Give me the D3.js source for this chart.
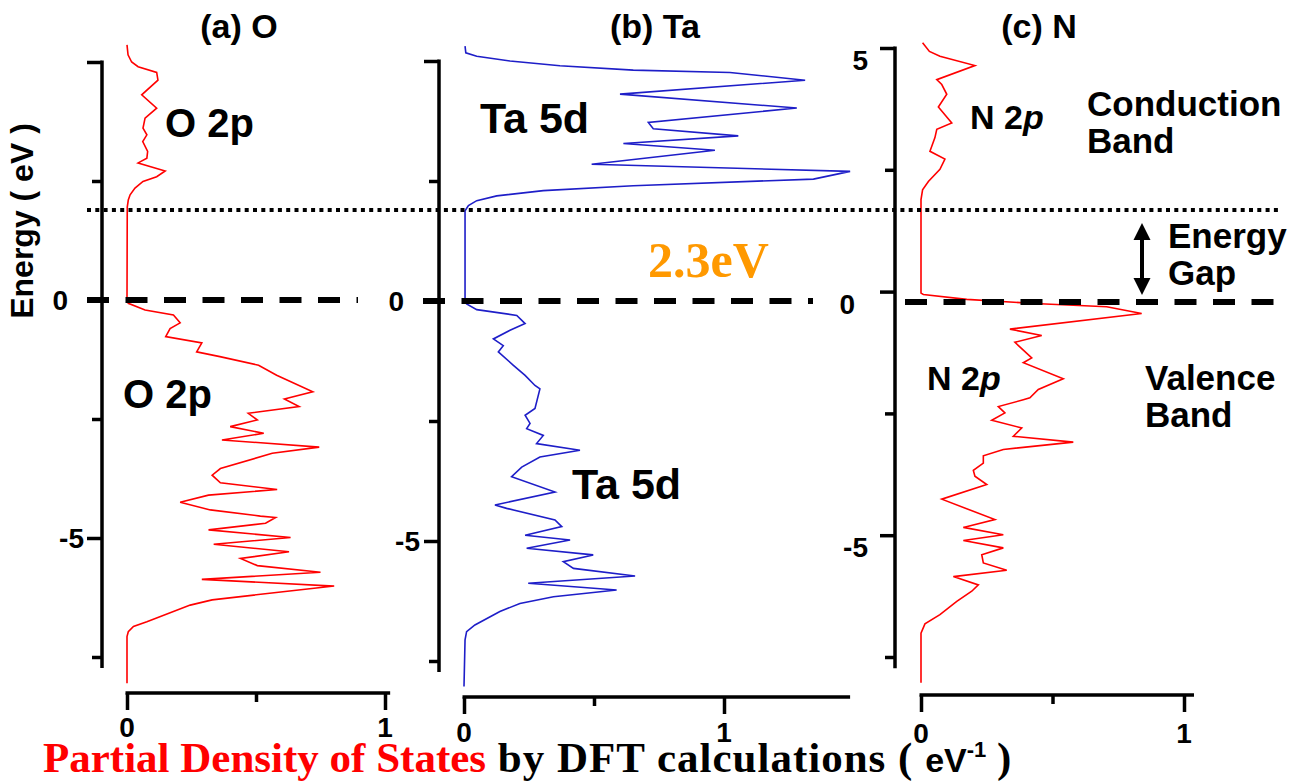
<!DOCTYPE html>
<html lang="en">
  <head>
    <meta charset="UTF-8" />
    <title>Partial density of states</title>
    <script src="https://d3js.org/d3.v7.min.js"></script>
    <style>
      body {
        margin: 0;
        background: #fff;
      }
      svg {
        display: block;
        font-family: "Liberation Sans", Arial, sans-serif;
        font-weight: bold;
      }
      .axis line,
      .axis-line {
        stroke: #000;
        stroke-width: 3.5;
      }
      .curve {
        fill: none;
        stroke-width: 1.6;
      }
      .tick-label {
        font-size: 28px;
      }
      .title {
        font-size: 34px;
        text-anchor: middle;
      }
      .serif {
        font-family: "Liberation Serif", "Times New Roman", serif;
      }
    </style>
  </head>
  <body>
    <svg width="1304" height="782"></svg>

    <script>
      // energies (eV) and PDOS (1/eV)
      const oEnergy = [5.36, 5.15, 5.0, 4.9, 4.78, 4.62, 4.31, 4.03, 3.82, 3.61, 3.47, 3.33, 3.12, 2.98, 2.88, 2.71, 2.59, 2.49, 2.35, 2.21, 2.1, 1.95, 0,
        -0.07, -0.21, -0.315, -0.48, -0.6, -0.77, -0.9, -1.09, -1.19, -1.37, -1.58, -1.93, -2.08, -2.24, -2.38, -2.52, -2.66, -2.8, -2.94, -3.09,
        -3.22, -3.54, -3.68, -3.84, -3.98, -4.1, -4.25, -4.41, -4.54, -4.57, -4.69, -4.83, -4.99, -5.13, -5.29, -5.43, -5.58, -5.72, -5.87, -6.01,
        -6.15, -6.3, -6.41, -6.76, -6.86, -6.97, -7.07, -8.05];
      const oDos = [0, 0.004, 0.018, 0.043, 0.115, 0.12, 0.057, 0.115, 0.07, 0.062, 0.077, 0.061, 0.08, 0.077, 0.043, 0.148, 0.115, 0.062, 0.031, 0.012, 0.005, 0.001, 0,
        0.005, 0.07, 0.18, 0.206, 0.167, 0.15, 0.29, 0.27, 0.36, 0.51, 0.58, 0.72, 0.61, 0.667, 0.47, 0.505, 0.4, 0.53, 0.368, 0.745,
        0.563, 0.362, 0.33, 0.362, 0.582, 0.316, 0.206, 0.323, 0.517, 0.576, 0.537, 0.316, 0.634, 0.336, 0.628, 0.44, 0.505, 0.75, 0.29, 0.803,
        0.57, 0.33, 0.245, 0.077, 0.025, 0.005, 0, 0];

      const taEnergy = [5.31, 5.17, 5.1, 5.0, 4.9, 4.81, 4.76, 4.6, 4.31, 4.02, 3.72, 3.59, 3.44, 3.28, 3.14, 2.85, 2.7, 2.54, 2.4, 2.3,
        2.19, 2.09, 1.99, 1.88, 0, -0.06, -0.18, -0.3, -0.47, -0.61, -0.79, -0.93, -1.06, -1.34, -1.55, -1.76, -1.83, -2.24, -2.38, -2.55,
        -2.66, -2.8, -2.97, -3.11, -3.25, -3.46, -3.66, -3.98, -4.25, -4.32, -4.56, -4.7, -4.88, -4.98, -5.15, -5.29, -5.43, -5.57, -5.73, -5.88,
        -6.02, -6.16, -6.3, -6.47, -6.75, -6.89, -7.06, -8.03];
      const taDos = [0.004, 0.007, 0.049, 0.177, 0.369, 0.651, 1.023, 1.312, 0.6, 1.28, 0.709, 0.728, 1.055, 0.613, 0.965, 0.491, 1.485, 1.344, 0.651, 0.305,
        0.126, 0.049, 0.017, 0.004, 0.004, 0.01, 0.049, 0.203, 0.235, 0.177, 0.113, 0.151, 0.132, 0.19, 0.235, 0.273, 0.292, 0.273, 0.235, 0.254,
        0.241, 0.305, 0.279, 0.446, 0.292, 0.222, 0.183, 0.35, 0.119, 0.164, 0.35, 0.376, 0.235, 0.408, 0.241, 0.497, 0.382, 0.421, 0.658, 0.247,
        0.587, 0.344, 0.215, 0.138, 0.042, 0.01, 0.004, 0];

      const nEnergy = [5.11, 4.93, 4.83, 4.64, 4.35, 4.25, 4.05, 3.79, 3.46, 3.33, 3.16, 2.88, 2.72, 2.51, 2.26, 2.09, 1.89, -0.03, -0.06, -0.16,
        -0.25, -0.31, -0.45, -0.77, -0.9, -1.04, -1.36, -1.46, -1.79, -2.01, -2.18, -2.22, -2.36, -2.49, -2.64, -2.8, -2.97, -3.09, -3.24, -3.37,
        -3.52, -3.67, -3.79, -3.96, -4.26, -4.68, -4.84, -4.99, -5.11, -5.26, -5.4, -5.57, -5.72, -5.85, -6.02, -6.15, -6.36, -6.63, -6.82, -7.01, -8.03];
      const nDos = [0.006, 0.032, 0.072, 0.205, 0.06, 0.079, 0.098, 0.066, 0.117, 0.06, 0.053, 0.034, 0.091, 0.072, 0.028, 0.006, 0, 0, 0.009, 0.174,
        0.452, 0.706, 0.839, 0.338, 0.459, 0.357, 0.421, 0.389, 0.541, 0.446, 0.414, 0.389, 0.294, 0.319, 0.269, 0.383, 0.351, 0.579, 0.313, 0.237,
        0.237, 0.199, 0.205, 0.25, 0.079, 0.281, 0.161, 0.313, 0.161, 0.313, 0.231, 0.237, 0.326, 0.123, 0.218, 0.193, 0.136, 0.072, 0.015, 0, 0];

      const energyTicks = [5, 2.5, 0, -2.5, -5, -7.5];
      const dosTicks = [0, 0.5, 1];

      const svg = d3.select("svg");
      svg.append("rect").attr("width", 1304).attr("height", 782).attr("fill", "#fff");

      const panels = [
        { title: "(a) O", energy: oEnergy, dos: oDos, color: "#ff0000", axisX: 102, yRange: [62, 657], xRange: [127, 385], xMax: 1.02, xAxisY: 693,
          titleX: 239, yLabels: [0, -5], zeroDx: -34, otherDx: -18, labelDy: 10, xLabelY: 737 },
        { title: "(b) Ta", energy: taEnergy, dos: taDos, color: "#1e1ec8", axisX: 439, yRange: [61, 661], xRange: [464, 724], xMax: 1.485, xAxisY: 697,
          titleX: 655, yLabels: [0, -5], zeroDx: -35, otherDx: -19, labelDy: 10, xLabelY: 742 },
        { title: "(c) N", energy: nEnergy, dos: nDos, color: "#ff0000", axisX: 895, yRange: [48, 657], xRange: [921, 1184], xMax: 1.038, xAxisY: 695,
          titleX: 1039, yLabels: [5, 0, -5], zeroDx: -40, otherDx: -27, labelDy: 22, xLabelY: 743 }
      ];

      panels.forEach(function (p) {
        const y = d3.scaleLinear().domain([5, -7.5]).range(p.yRange);
        const x = d3.scaleLinear().domain([0, 1]).range(p.xRange);

        // y axis
        svg.append("line").attr("class", "axis-line")
          .attr("x1", p.axisX).attr("x2", p.axisX)
          .attr("y1", y(5) - 1.5).attr("y2", y(-7.73));
        const yAxis = svg.append("g").attr("class", "axis")
          .attr("transform", "translate(" + p.axisX + ",0)")
          .call(d3.axisLeft(y).tickValues(energyTicks).tickFormat("").tickSizeOuter(0));
        yAxis.select(".domain").remove();
        yAxis.selectAll(".tick line").attr("x2", function (d) {
          return d % 5 === 0 ? -15 : -10;
        });
        svg.selectAll(null).data(p.yLabels).enter().append("text")
          .attr("class", "tick-label")
          .attr("text-anchor", "end")
          .attr("x", function (d) { return p.axisX + (d === 0 ? p.zeroDx : p.otherDx); })
          .attr("y", function (d) { return y(d) + p.labelDy; })
          .text(function (d) { return d; });

        // x axis
        svg.append("line").attr("class", "axis-line")
          .attr("x1", x(0) - 1.5).attr("x2", x(p.xMax))
          .attr("y1", p.xAxisY).attr("y2", p.xAxisY);
        const xAxis = svg.append("g").attr("class", "axis")
          .attr("transform", "translate(0," + p.xAxisY + ")")
          .call(d3.axisBottom(x).tickValues(dosTicks).tickFormat("").tickSizeOuter(0));
        xAxis.select(".domain").remove();
        xAxis.selectAll(".tick line").attr("y2", function (d) {
          return d === 0.5 ? 9 : 17;
        });
        svg.selectAll(null).data([0, 1]).enter().append("text")
          .attr("class", "tick-label")
          .attr("text-anchor", "middle")
          .attr("x", function (d) { return x(d); })
          .attr("y", p.xLabelY)
          .text(function (d) { return d; });

        // PDOS curve
        const line = d3.line()
          .x(function (d) { return x(d[1]); })
          .y(function (d) { return y(d[0]); });
        svg.append("path").attr("class", "curve")
          .attr("stroke", p.color)
          .attr("d", line(d3.zip(p.energy, p.dos)));

        svg.append("text").attr("class", "title")
          .attr("x", p.titleX).attr("y", 38).text(p.title);
      });

      // Fermi level (dashed) and conduction band edge (dotted)
      [[87, 358, 300], [423, 813, 301], [905, 1278, 302]].forEach(function (s) {
        svg.append("line")
          .attr("x1", s[0]).attr("x2", s[1]).attr("y1", s[2]).attr("y2", s[2])
          .attr("stroke", "#000").attr("stroke-width", 6)
          .attr("stroke-dasharray", "22,16.5");
      });
      svg.append("line")
        .attr("x1", 87).attr("x2", 1280).attr("y1", 210).attr("y2", 210)
        .attr("stroke", "#000").attr("stroke-width", 4)
        .attr("stroke-dasharray", "4,4.3");

      // energy gap arrow
      svg.append("line").attr("x1", 1142).attr("x2", 1142).attr("y1", 236).attr("y2", 282)
        .attr("stroke", "#000").attr("stroke-width", 4);
      svg.append("path").attr("d", "M1142,223 L1150.5,240 L1133.5,240 Z M1142,295 L1150.5,278 L1133.5,278 Z")
        .attr("fill", "#000");

      // labels
      const labels = [
        ["O 2p", 165, 137, 40], ["O 2p", 123, 408, 40],
        ["Ta 5d", 480, 133, 43], ["Ta 5d", 572, 499, 43],
        ["Conduction", 1087, 116, 35], ["Band", 1087, 153, 35],
        ["Energy", 1168, 248, 35], ["Gap", 1168, 285, 35],
        ["Valence", 1145, 390, 35], ["Band", 1145, 427, 35]
      ];
      labels.forEach(function (l) {
        svg.append("text").attr("x", l[1]).attr("y", l[2])
          .style("font-size", l[3] + "px").text(l[0]);
      });
      [[970, 129], [927, 390]].forEach(function (pos) {
        const t = svg.append("text").attr("x", pos[0]).attr("y", pos[1]).style("font-size", "34px");
        t.append("tspan").text("N 2");
        t.append("tspan").style("font-style", "italic").text("p");
      });

      svg.append("text").attr("class", "serif")
        .attr("x", 648).attr("y", 277)
        .attr("fill", "#ff9900")
        .style("font-size", "50px")
        .text("2.3eV");

      svg.append("text")
        .attr("transform", "translate(33,221) rotate(-90)")
        .attr("text-anchor", "middle")
        .style("font-size", "32px")
        .text("Energy ( eV )");

      // caption
      const cap = svg.append("text").attr("x", 43).attr("y", 772).style("font-size", "43px");
      cap.append("tspan").attr("class", "serif").attr("fill", "#ff0000").text("Partial Density of States");
      cap.append("tspan").attr("class", "serif").style("letter-spacing", "1px").text(" by DFT calculations ( ");
      cap.append("tspan").style("font-size", "34px").text("eV");
      cap.append("tspan").style("font-size", "22px").attr("dy", -15).text("-1");
      cap.append("tspan").attr("class", "serif").attr("dy", 15).text("  )");
    </script>
  </body>
</html>
